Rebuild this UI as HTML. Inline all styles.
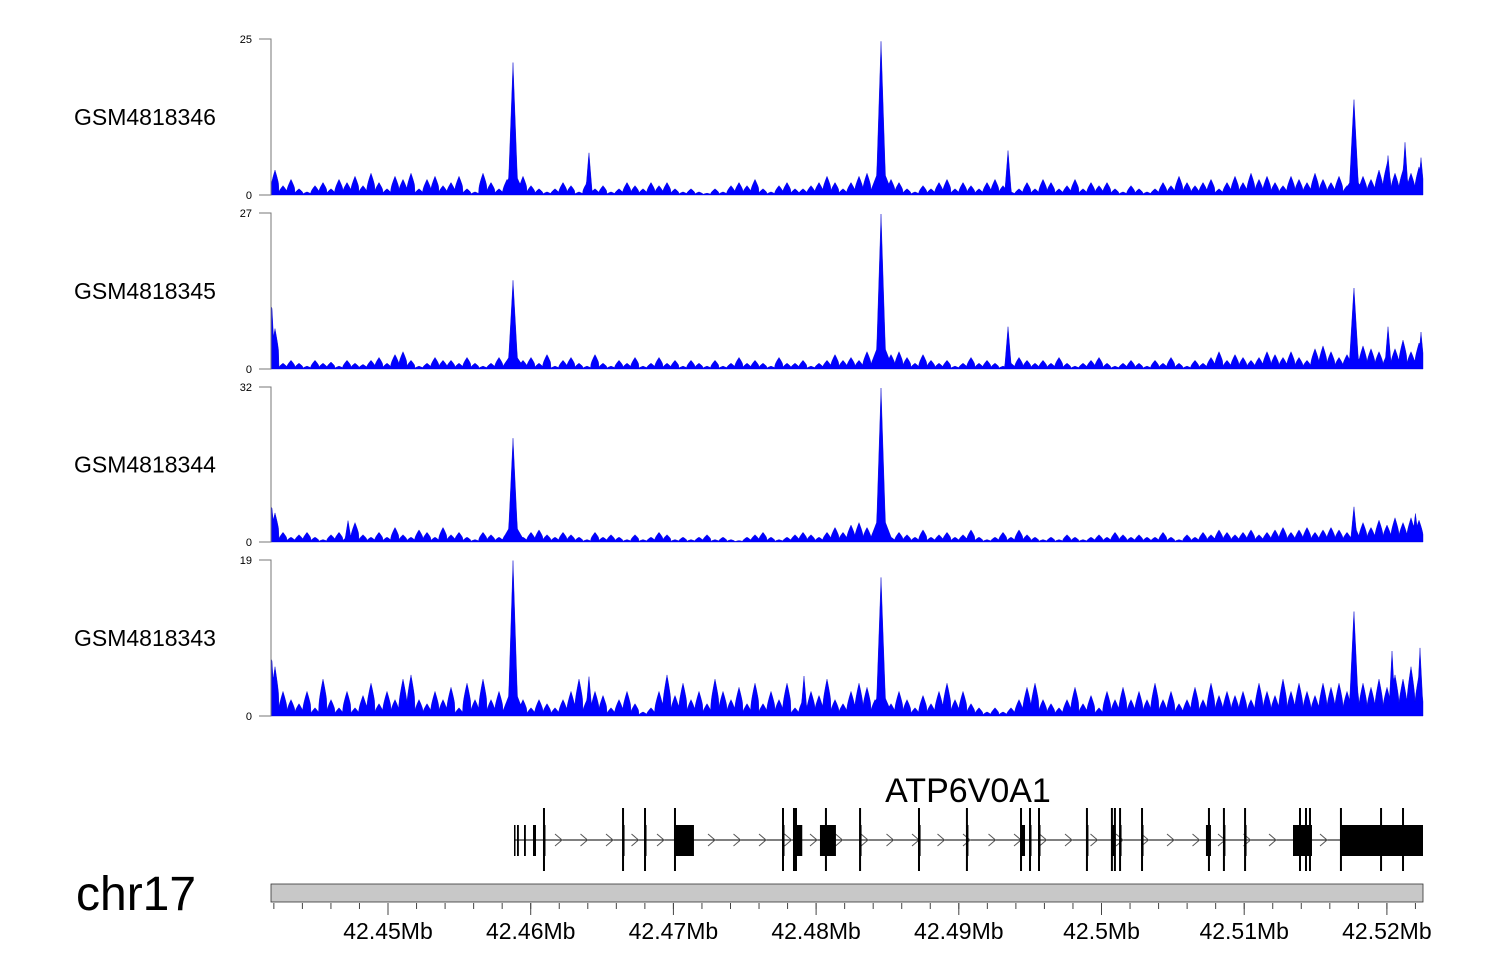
<!DOCTYPE html>
<html><head><meta charset="utf-8"><style>
html,body{margin:0;padding:0;background:#fff;}
svg{display:block;font-family:"Liberation Sans",sans-serif;}
</style></head><body>
<svg id="c" width="1500" height="980" viewBox="0 0 1500 980"></svg>
<script>
const trackNames = ["GSM4818346","GSM4818345","GSM4818344","GSM4818343"];
const trackMax = [25,27,32,19];
const baseT1 = [4,1.5,2.5,1,0.5,1.5,2,1,2.5,2,3,1.5, 3.5,2,1,3,2.5,3.5,1,2.5,3,1.5,2,3, 1,0.5,3.5,2,1,2.5,3,3,1.5,1,0.5,1, 2,1.5,0.5,2,1,1.5,0.5,1,2,1.5,1,2, 1.5,2,1,0.5,1,0.5,0.3,1,0.5,1.5,2,1.5, 2.5,1,0.5,1.5,2,1,1,1.5,2,3,2,1, 2,3,3.5,1,2,2.5,2,1,0.5,1.5,1,2, 2.5,1,2,1.5,1,2,2.5,1.5,0.5,1,2,1, 2.5,2,1,1.5,2.5,1,2,1.5,2,1,0.5,1.5, 1,0.5,1,2,1.5,3,2,1.5,2,2.5,1,2, 3,2,3.5,2.5,3,2,1.5,3,2.5,2,3.5,2.5, 2,3,1.5,2.5,3,2.5,4,5,3.5,4,3.5,4.5];
const baseT2 = [7,1,1.5,1,0.5,1.5,1,1.2,0.5,1.5,1,0.8, 1.5,2,1,2.5,3,1.5,0.5,1,2,1.5,1.5,1, 2,1,0.5,1,2,1,0.5,1.5,2,1,2.5,0.5, 1.5,2,1,0.5,2.5,1,0.5,1.5,1,2,0.5,1, 2,1,1.5,0.5,1.5,1,0.5,1.5,0.5,1,2,1, 1.5,1,0.5,2,1,1,1.5,0.5,1,1.5,2.5,1.5, 2,1.5,3,2,1.5,2.5,3,2,1,2.5,1.5,1, 1.5,0.5,1,2,1,1.5,1,0.5,1,2,1.5,1, 1.5,1,2,1,0.5,1,1.5,2,1,0.5,1,1.5, 1,0.5,1.5,1,2,1,0.5,1.5,1,2,3,1.5, 2.5,2,1.5,2,3,2.5,2,3,2,1.5,3.5,4, 3,2,2.5,3,4,3.5,3,2.5,3.5,5,3,4.5];
const baseT3 = [6,2,1,1.5,2,1,0.5,1.5,2,1,4,1.5, 1,2,1,3,1.5,1,2.5,2,1,3,1.5,2, 1,0.5,2,1.5,1,2,3,1,2,2.5,1.5,1, 2,1.5,1,0.5,2,1,1.5,1,0.5,1.5,0.5,1, 2,1.5,0.5,1,0.5,1,1.5,0.5,1,0.5,0.3,1, 1.5,2,1,0.5,1,1.5,2,1.5,1,2,3,2, 3.5,4,3,1.5,2,1,2,1.5,1,2.5,1,1.5, 2,1,1.5,2.5,1,0.5,1,2,1,2.5,1.5,1, 0.5,1,0.5,1.5,1,0.5,1,1.5,1,2,1.5,1, 1.5,1,1,2,1,0.5,1.5,1,2,1.5,2.5,2, 1.5,2,2.5,1.5,2,2.5,3,2,2.5,3,2,2.5, 3,2.5,2,3,4,3,4.5,3.5,5,4,5,4.5];
const baseT4 = [6,3,2,1.5,3,1,4.5,2,1,3,1,2.5, 4,1.5,3,2,4.5,5,2,1.5,3,2,3.5,1, 4,2,4.5,2,3,1.5,3.5,2,1,2,1.5,1, 2,3,4.5,2,3,2.5,1,2,3,1.5,0.5,1, 3,5,2.5,4,2,3,1.5,4.5,3,2,3.5,1.5, 4,1.5,3,2,4,1,2,3,2.5,4.5,2,1.5, 3,4,3.5,2,3,1.5,3,2,1,2.5,1.5,3, 4,2,3,1.5,1,0.5,1,0.5,1,2,3.5,4, 2,1.5,1,2,3.5,1.5,2.5,1,3,2,3.5,2, 3,2,4,2,3,1.5,2,3.5,2,4,2.5,3, 2.5,3,2,4,3,2.5,4.5,3,4,3,2.5,4, 3.5,4,3,5,4,3.5,4.5,3.5,5,4.5,6,5];
const peakPosT1 = [42458.76,42484.55,42517.69,42464.08,42493.45,42521.27,42520.08,42522.39];
const peakHT1 = [21.3,24.8,15.5,6.9,7.2,8.5,6.4,6];
const peakPosT2 = [42458.76,42484.55,42517.69,42441.85,42493.45,42520.08,42522.39];
const peakHT2 = [15.4,27,14.2,11.4,7.4,7.4,6.4];
const peakPosT3 = [42458.76,42484.55,42517.69,42441.85,42447.2,42522.0];
const peakHT3 = [21.5,32,7.4,7.6,4.5,6];
const peakPosT4 = [42458.76,42484.55,42517.69,42441.85,42520.36,42522.32,42479.15,42464.08];
const peakHT4 = [19,17,12.9,7.3,8,8.3,4.9,4.9];
const bases=[baseT1,baseT2,baseT3,baseT4];
const peakPos=[peakPosT1,peakPosT2,peakPosT3,peakPosT4];
const peakH=[peakHT1,peakHT2,peakHT3,peakHT4];
// gene model (kb)
const exonStart = [42458.83,42459.04,42459.53,42460.16,42460.93,42466.47,42468.01,42470.11,42477.68,42478.45,42480.27,42483.08,42487.21,42490.57,42494.36,42494.99,42495.62,42498.98,42500.73,42501.30,42502.84,42507.32,42508.58,42510.06,42513.42,42516.78];
const exonEnd   = [42458.92,42459.17,42459.66,42460.37,42461.00,42466.54,42468.08,42471.44,42477.75,42479.03,42481.39,42483.13,42487.32,42490.64,42494.64,42495.06,42495.69,42499.05,42500.94,42501.37,42502.91,42507.67,42508.65,42510.13,42514.75,42522.53];
const tallLines = [42460.93,42466.47,42468.01,42470.11,42477.68,42478.45,42478.59,42480.69,42483.08,42487.21,42490.57,42494.36,42494.99,42495.62,42498.98,42500.73,42500.94,42501.30,42502.84,42507.53,42508.58,42510.06,42513.91,42514.33,42514.61,42516.78,42519.59,42521.13];
const axisTicks = [42450,42460,42470,42480,42490,42500,42510,42520];
const axisLabels = ["42.45Mb","42.46Mb","42.47Mb","42.48Mb","42.49Mb","42.5Mb","42.51Mb","42.52Mb"];

const NS="http://www.w3.org/2000/svg";
const svg=document.getElementById('c');
const X0=271,X1=1423,D0=42441.8,D1=42522.53;
function xs(kb){return X0+(kb-D0)/(D1-D0)*(X1-X0);}
function mk(t,a,p){const e=document.createElementNS(NS,t);for(const k in a)e.setAttribute(k,a[k]);(p||svg).appendChild(e);return e;}
const tops=[39,213,387,560], bots=[195,369,542,716];
for(let t=0;t<4;t++){
  const g=mk('g',{});
  
  
  const top=tops[t],bot=bots[t],mx=trackMax[t];
  const ys=v=>bot-Math.min(v,mx)/mx*(bot-top);
  const base=bases[t],n=base.length;
  const bw=(X1-X0)/n;
  let d='M'+X0+','+bot;
  for(let px=X0;px<=X1;px+=0.5){
    const f=(px-X0)/bw;const i=Math.min(Math.floor(f),n-1);const fr=f-i;
    const b=base[i];const lo=0.35*b;
    let v=lo+(b-lo)*Math.pow(Math.max(0,1-Math.abs(2*fr-1)),0.8);
    for(let k=0;k<peakPos[t].length;k++){
      const dx=Math.abs(px-xs(peakPos[t][k]));
      const hw=peakH[t][k]>12?5:3.5;
      if(dx<hw){v=Math.max(v,peakH[t][k]*(1-dx/hw));}
      if(peakH[t][k]>12&&dx<12){v=Math.max(v,peakH[t][k]*0.2*(1-dx/12));}
    }
    d+='L'+px+','+ys(v).toFixed(1);
  }
  d+='L'+X1+','+bot+'Z';
  const a=mk('path',{d:d,fill:'#0000ff',stroke:'#0000cc','stroke-width':0.4},g);
  
  
  mk('path',{d:`M259,${top}H271V${bot}H259`,fill:'none',stroke:'#777','stroke-width':1},g);
  const l1=mk('text',{x:252,y:top+4,'font-size':11,'text-anchor':'end',fill:'#000'},g);l1.textContent=mx;
  
  
  const l0=mk('text',{x:252,y:bot+4,'font-size':11,'text-anchor':'end',fill:'#000'},g);l0.textContent='0';
  
  
  const nm=mk('text',{x:74,y:(top+bot)/2+8,'font-size':23,fill:'#000'},g);nm.textContent=trackNames[t];
  
  
}
// gene
const gg=mk('g',{});


mk('line',{x1:xs(42458.83),x2:xs(42516.78),y1:840,y2:840,stroke:'#000','stroke-width':1},gg);
for(let x=xs(42458.83)+45;x<xs(42516.78)-5;x+=25.5){
  mk('path',{d:`M${x-4},834L${x+3},840L${x-4},846`,fill:'none',stroke:'#555','stroke-width':1},gg);
}
for(let i=0;i<exonStart.length;i++){
  const x1=xs(exonStart[i]),x2=xs(exonEnd[i]);
  const r=mk('rect',{x:x1,y:825,width:Math.max(x2-x1,1.5),height:31,fill:'#000'},gg);
  
  
}
for(const p of tallLines){mk('rect',{x:xs(p)-1,y:808,width:2,height:63,fill:'#000'},gg);}
const gn=mk('text',{x:968,y:802,'font-size':34,'text-anchor':'middle',fill:'#000'},gg);gn.textContent='ATP6V0A1';


// axis
const ag=mk('g',{});


mk('rect',{x:271,y:884,width:1152,height:18,fill:'#c8c8c8',stroke:'#333','stroke-width':0.8},ag);
for(let kb=42442;kb<=42522;kb+=2){mk('line',{x1:xs(kb),x2:xs(kb),y1:903,y2:909,stroke:'#444','stroke-width':1},ag);}
for(let i=0;i<axisTicks.length;i++){
  const x=xs(axisTicks[i]);
  mk('line',{x1:x,x2:x,y1:903,y2:915,stroke:'#444','stroke-width':1},ag);
  const tl=mk('text',{x:x,y:939,'font-size':23,'text-anchor':'middle',fill:'#000'},ag);tl.textContent=axisLabels[i];
  
  
}
const ch=mk('text',{x:76,y:910,'font-size':48,fill:'#000'});ch.textContent='chr17';


</script>
</body></html>
